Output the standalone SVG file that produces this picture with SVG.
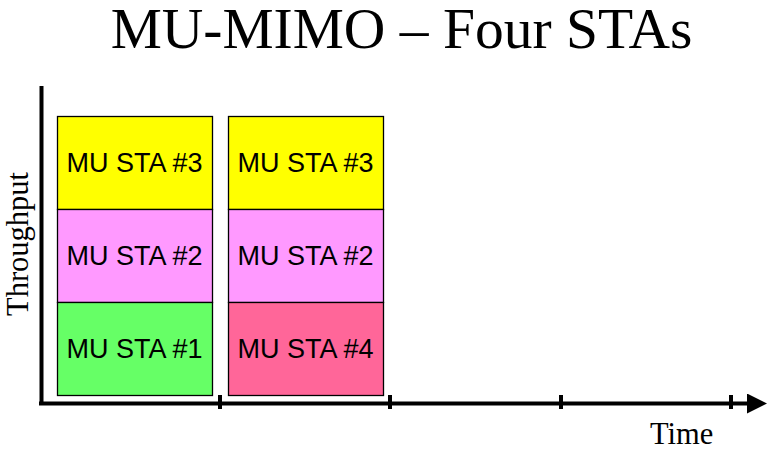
<svg xmlns="http://www.w3.org/2000/svg" width="770" height="461" viewBox="0 0 770 461">
<style>
.box{stroke:#000;stroke-width:1.3}
.lbl{font-family:"Liberation Sans",Arial,sans-serif;font-size:27px;text-anchor:middle;fill:#000}
.ser{font-family:"Liberation Serif","Times New Roman",serif;fill:#000}
.ax{stroke:#000;stroke-width:4;fill:none}
</style>
<defs>
<marker id="arr" markerWidth="5" markerHeight="5" refX="0" refY="2.5" orient="auto" markerUnits="strokeWidth">
<path d="M0,0 L5,2.5 L0,5 z" fill="#000"/>
</marker>
</defs>
<rect width="770" height="461" fill="#fff"/>
<text class="ser" x="401.5" y="48" font-size="57.5" text-anchor="middle">MU-MIMO – Four STAs</text>
<g id="s3a"><rect class="box" x="57.5" y="116.5" width="155" height="93" fill="#FFFF00"/><text class="lbl" x="134.5" y="172">MU STA #3</text></g>
<g id="s2a"><rect class="box" x="57.5" y="209.5" width="155" height="93" fill="#FF99FF"/><text class="lbl" x="134.5" y="265">MU STA #2</text></g>
<g id="s1"><rect class="box" x="57.5" y="302.5" width="155" height="93" fill="#66FF66"/><text class="lbl" x="134.5" y="358">MU STA #1</text></g>
<g id="s3b"><rect class="box" x="228.5" y="116.5" width="155" height="93" fill="#FFFF00"/><text class="lbl" x="305.5" y="172">MU STA #3</text></g>
<g id="s2b"><rect class="box" x="228.5" y="209.5" width="155" height="93" fill="#FF99FF"/><text class="lbl" x="305.5" y="265">MU STA #2</text></g>
<g id="s4"><rect class="box" x="228.5" y="302.5" width="155" height="93" fill="#FF6699"/><text class="lbl" x="305.5" y="358">MU STA #4</text></g>
<g id="axes">
<path class="ax" d="M41.5,86 V405"/>
<path class="ax" d="M39,403.5 H747" marker-end="url(#arr)"/>
<path class="ax" d="M220,395 V409 M390,395 V409 M561,395 V409 M731,395 V409"/>
</g>
<text class="ser" x="650" y="444" font-size="30.5">Time</text>
<text class="ser" font-size="30.5" text-anchor="middle" transform="translate(28,244) rotate(-90)">Throughput</text>
</svg>
